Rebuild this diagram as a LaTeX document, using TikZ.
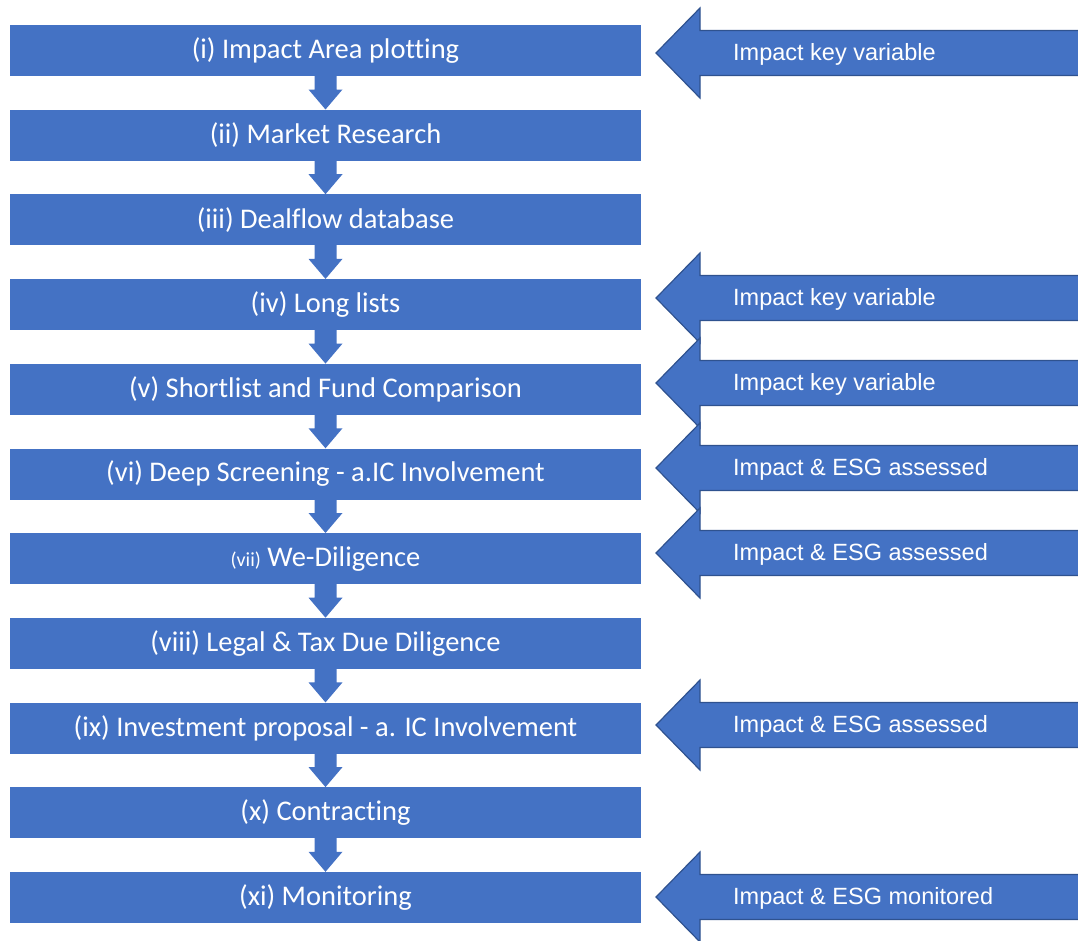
\documentclass[tikz,border=0pt]{standalone}
\usepackage{fontspec}
\setmainfont{Carlito}[Ligatures=NoCommon]
\newfontfamily\arialfont{Liberation Sans}
\usetikzlibrary{calc}
\definecolor{c1}{RGB}{68,114,196}
\definecolor{c2}{RGB}{47,82,143}

\begin{document}
\begin{tikzpicture}[x=1pt,y=-1pt,
    stage/.style={fill=c1,minimum width=631pt,minimum height=51pt,inner sep=0pt,
                  font=\fontsize{28.5}{31}\selectfont,text=white},
    dn/.style={fill=c1},
    bigarr/.style={fill=c1,draw=c2,line width=1.2pt,line join=miter},
    note/.style={font=\arialfont\fontsize{23.5}{26}\selectfont,text=white,
                 anchor=base west,inner sep=0pt}]
  \useasboundingbox (0,0) rectangle (1078,940);
  \clip (0,0) rectangle (1078,940);
  % process stages
  \foreach \i/\t [count=\k from 0] in {
      i/(i) Impact Area plotting,
      ii/(ii) Market Research,
      iii/(iii) Dealflow database,
      iv/(iv) Long lists,
      v/(v) Shortlist and Fund Comparison,
      vi/(vi) Deep Screening - a.IC Involvement,
      vii/{{\fontsize{20}{22}\selectfont(vii)} We-Diligence},
      viii/(viii) Legal \& Tax Due Diligence,
      ix/(ix) Investment proposal - a. IC Involvement,
      x/(x) Contracting,
      xi/(xi) Monitoring}
    \node[stage] (s\i) at (325.5,50.5+84.7*\k) {\t};
  \foreach \a/\b in {i/ii,ii/iii,iii/iv,iv/v,v/vi,vi/vii,vii/viii,viii/ix,ix/x,x/xi}
    \path[dn] ($(s\a.south)+(-11,-1)$) -- ($(s\a.south)+(11,-1)$)
      -- ($(s\b.north)+(11,-20)$) -- ($(s\b.north)+(17,-20)$) -- (s\b.north)
      -- ($(s\b.north)+(-17,-20)$) -- ($(s\b.north)+(-11,-20)$) -- cycle;
  % impact inputs
  \foreach \y/\t [count=\k] in {
      53/Impact key variable,
      298/Impact key variable,
      383/Impact key variable,
      468/Impact \& ESG assessed,
      553/Impact \& ESG assessed,
      725/Impact \& ESG assessed,
      897/Impact \& ESG monitored} {
    \draw[bigarr] (656,\y) -- (700,\y-45) -- (700,\y-22.5) -- (1090,\y-22.5)
      -- (1090,\y+22.5) -- (700,\y+22.5) -- (700,\y+45) -- cycle;
    \node[note] (n\k) at (733,\y+7) {\t};
  }
\end{tikzpicture}
\end{document}
